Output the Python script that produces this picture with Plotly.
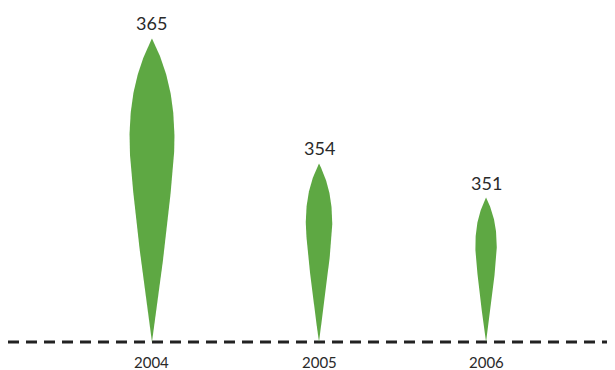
import numpy as np
import plotly.graph_objects as go

years = ["2004", "2005", "2006"]
values = [365, 354, 351]
baseline = 338.3

GREEN = "#5EA843"
TEXT = "#2a2a2a"

# shape profile parameters
width_ratio = 0.00505   # half-width (x units) per y unit of height
t_widest = 0.65         # fraction of height (from bottom) where drop is widest

fig = go.Figure()

def drop(xc, v):
    h = v - baseline
    W = width_ratio * h
    t = np.linspace(0, 1, 200)
    w = np.where(
        t <= t_widest,
        1 - (1 - t / t_widest) ** 1.25,
        1 - ((t - t_widest) / (1 - t_widest)) ** 2.4,
    ) * W
    ys = baseline + t * h
    xs = np.concatenate([xc + w, (xc - w)[::-1]])
    yy = np.concatenate([ys, ys[::-1]])
    return xs, yy

for i, (yr, v) in enumerate(zip(years, values)):
    xs, yy = drop(i, v)
    fig.add_trace(go.Scatter(x=xs, y=yy, mode="lines", fill="toself",
                             fillcolor=GREEN, line=dict(width=0, color=GREEN),
                             hoverinfo="skip", showlegend=False))
    fig.add_annotation(x=i, y=v, text=str(v), showarrow=False, yanchor="bottom",
                       yshift=2, font=dict(family="Lato, sans-serif", size=18, color=TEXT))
    fig.add_annotation(x=i, y=baseline, text=yr, showarrow=False, yanchor="top",
                       yshift=-10, borderpad=0,
                       font=dict(family="Lato, sans-serif", size=15, color=TEXT))

fig.add_shape(type="line", xref="paper", x0=0, x1=1, yref="y", y0=baseline, y1=baseline,
              line=dict(color="#222222", width=3, dash="11px,7px"), layer="below")

fig.update_layout(
    width=607, height=362,
    margin=dict(l=0, r=0, t=2, b=24),
    paper_bgcolor="white", plot_bgcolor="white",
    xaxis=dict(range=[-0.862, 2.772], visible=False),
    yaxis=dict(range=[baseline - 0.352, 367.5], visible=False),
)

fig.write_html("out.html")
